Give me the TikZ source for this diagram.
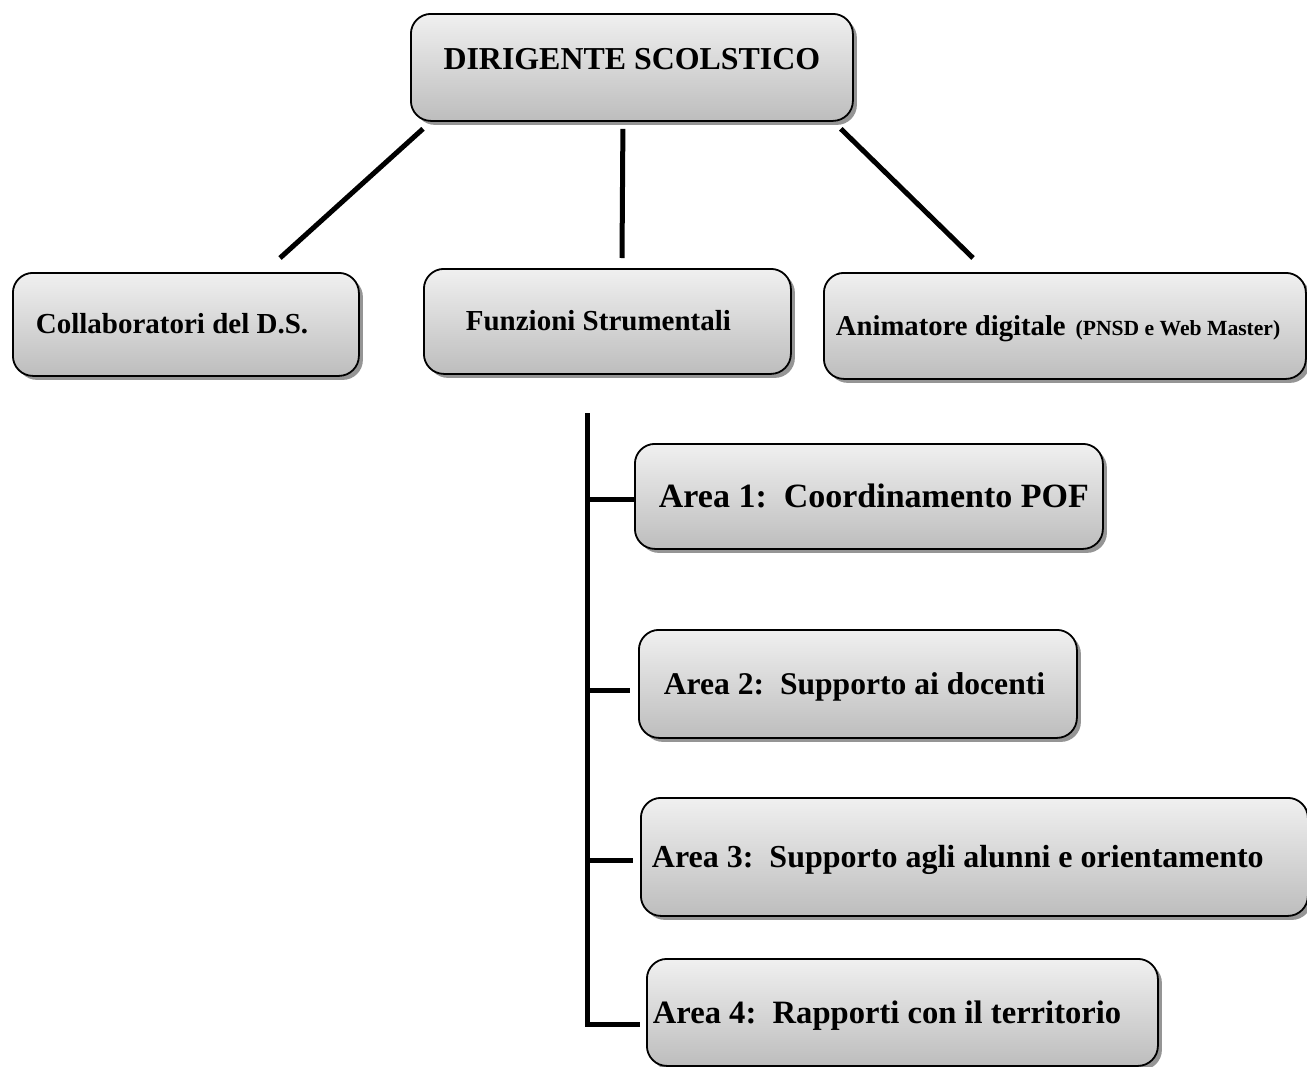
\documentclass[tikz,border=0pt]{standalone}
\usepackage{fontspec}
\setmainfont{Liberation Serif}
\usetikzlibrary{calc,shadows}

\definecolor{boxtop}{HTML}{F0F0F0}
\definecolor{boxbot}{HTML}{BDBDBD}
\definecolor{boxshade}{HTML}{8A8A8A}

\tikzset{
  orgbox/.style={draw, line width=1.8pt, rounded corners=20pt,
    top color=boxtop, bottom color=boxbot,
    drop shadow={shadow xshift=4pt, shadow yshift=-4pt, fill=boxshade, opacity=0.9},
    anchor=north west, inner xsep=0pt, align=flush left,
    fsz=29, text height=19pt, text depth=0pt},
  areabox/.style={orgbox, text height=21.5pt},
  fsz/.style={font=\bfseries\fontsize{#1}{40}\selectfont},
  lpad/.style={execute at begin node={\hspace*{#1}}},
  link/.style={line width=5pt},
}

\begin{document}
\begin{tikzpicture}[x=1pt,y=-1pt]
  \useasboundingbox (0,0) rectangle (1307,1066);

  % top level
  \node[orgbox, fsz=31.9, align=flush center,
    text width=442pt, minimum height=107pt, text height=21pt, text depth=16pt]
    (ds) at (410,13) {DIRIGENTE SCOLSTICO};

  % second level
  \node[orgbox, text width=346pt, minimum height=103pt, lpad=23pt]
    (cds) at (12,272) {Collaboratori del D.S.};
  \node[orgbox, text width=367pt, minimum height=105pt, lpad=42pt]
    (fs) at (423,268) {Funzioni Strumentali};
  \node[orgbox, fsz=28.7, text width=482pt, minimum height=106pt, lpad=12pt]
    (ad) at (823,272) {Animatore digitale\hspace{10pt}{\fontsize{21.6}{26}\selectfont(PNSD e Web Master)}};

  \coordinate (cL) at (280,258);
  \coordinate (cM) at (622,258);
  \coordinate (cR) at (973,258);
  \draw[link] ($(ds.south west)+(13,7)$) -- (cL);
  \draw[link] ($(ds.south)+(-9,7)$) -- (cM);
  \draw[link] ($(ds.south east)+(-13,7)$) -- (cR);

  % areas
  \node[areabox, fsz=34, text width=468pt, minimum height=105pt, lpad=24pt]
    (a1) at (634,443) {Area 1:~~Coordinamento POF};
  \node[areabox, fsz=31.6, text width=438pt, minimum height=108pt, lpad=25pt]
    (a2) at (638,629) {Area 2:~~Supporto ai docenti};
  \node[areabox, fsz=32, text width=667pt, minimum height=118pt, lpad=11pt]
    (a3) at (640,797) {Area 3:~~Supporto agli alunni e orientamento};
  \node[areabox, fsz=32.6, text width=511pt, minimum height=107pt, lpad=6pt]
    (a4) at (646,958) {Area 4:~~Rapporti con il territorio};

  \coordinate (spT) at (587,413);
  \draw[link, shorten >=6pt] (spT) |- ([yshift=-12pt]a4.west);
  \foreach \b/\dy/\gap in {a1/3.5/0, a2/7/8, a3/4/7}
    \draw[link, shorten >=\gap pt, transform canvas={yshift=-\dy pt}]
      (\b.west -| spT) -- (\b.west);
\end{tikzpicture}
\end{document}
